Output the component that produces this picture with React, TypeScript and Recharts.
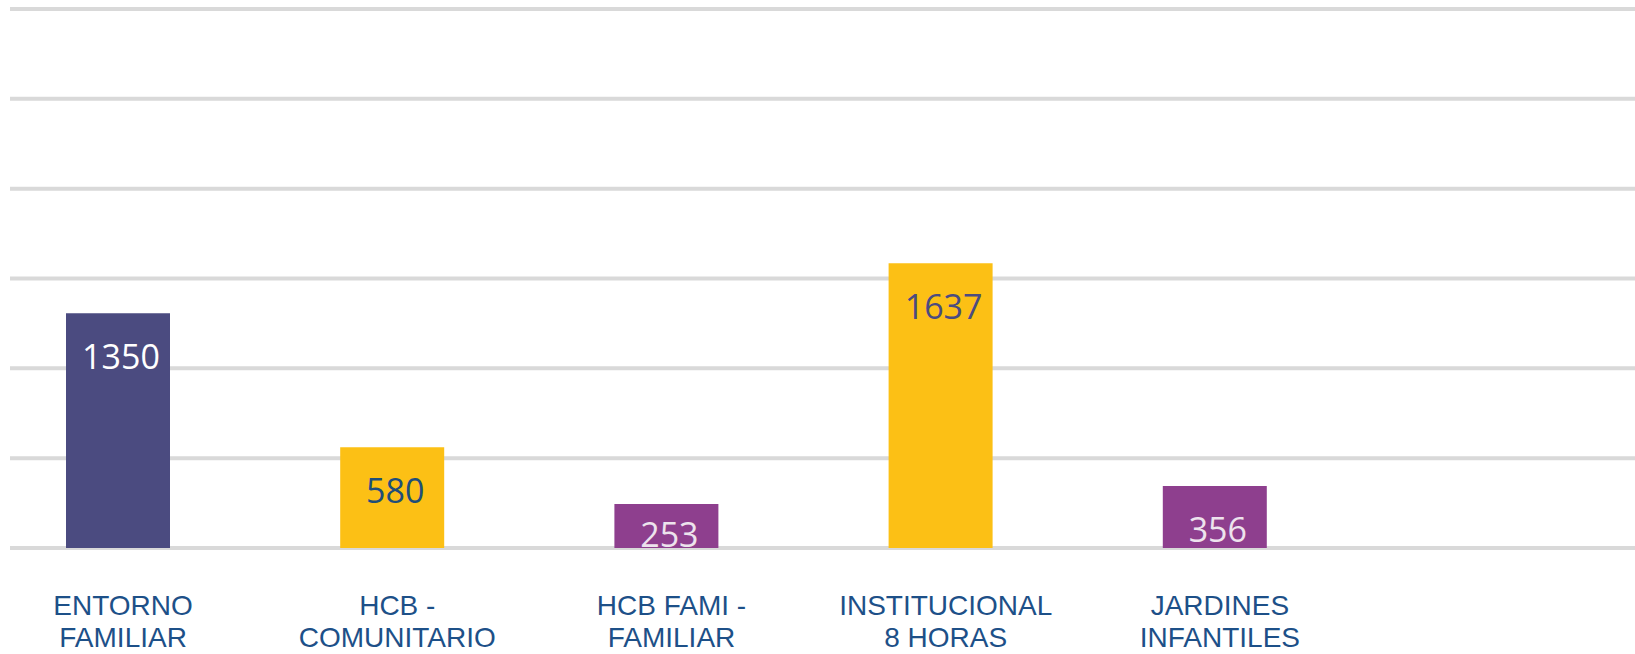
import { BarChart, Bar, XAxis, YAxis, CartesianGrid, Cell, LabelList } from 'recharts';

const categories = ['ENTORNO FAMILIAR', 'HCB - COMUNITARIO', 'HCB FAMI - FAMILIAR', 'INSTITUCIONAL 8 HORAS', 'JARDINES INFANTILES'];
const categoryLines = [
  ['ENTORNO', 'FAMILIAR'],
  ['HCB -', 'COMUNITARIO'],
  ['HCB FAMI -', 'FAMILIAR'],
  ['INSTITUCIONAL', '8 HORAS'],
  ['JARDINES', 'INFANTILES'],
];
const values = [1350, 580, 253, 1637, 356];
const yTicks = [0, 516.67, 1033.33, 1550, 2066.67, 2583.33, 3100];

const barColors = ['#4B4B80', '#FCC015', '#8E3F8E', '#FCC015', '#8E3F8E'];
const labelColors = ['#FFFFFF', '#1F4E79', '#EDE3ED', '#4B4B80', '#EDE3ED'];

const data = categories.map((name, i) => ({ name, value: values[i] }));

function CategoryTick(props: any) {
  const { x, y, index } = props;
  const lines = categoryLines[index] ?? [];
  return (
    <text
      x={x + 5}
      y={y}
      textAnchor='middle'
      fill='#1D5088'
      fontFamily='"Liberation Sans", Arial, sans-serif'
      fontSize={28}
    >
      {lines.map((l, i) => (
        <tspan key={i} x={x + 5} dy={i === 0 ? 67 : 32}>
          {l}
        </tspan>
      ))}
    </text>
  );
}

function ValueLabel(props: any) {
  const { x, y, width, height, value, index } = props;
  const cy = Math.min(y + 43, y + height - 14);
  return (
    <text
      x={x + width / 2 + 3}
      y={cy}
      textAnchor='middle'
      dominantBaseline='central'
      fill={labelColors[index]}
      fontFamily='"Open Sans", "Noto Sans", sans-serif'
      fontSize={34}
    >
      {value}
    </text>
  );
}

export default function App() {
  return (
    <div style={{ width: 1635, height: 654, background: '#fff' }}>
      <style>{'body{margin:0;overflow:hidden}'}</style>
      <BarChart
        width={1635}
        height={654}
        data={data}
        margin={{ top: 9, right: 0, bottom: 0, left: 10 }}
        barSize={104}
      >
        <CartesianGrid vertical={false} stroke='#D9D9D9' strokeWidth={4} />
        <XAxis
          dataKey='name'
          axisLine={false}
          tickLine={false}
          tickSize={0}
          tickMargin={0}
          interval={0}
          padding={{ left: -29, right: 283 }}
          tick={<CategoryTick />}
          height={106}
        />
        <YAxis hide domain={[0, 3100]} ticks={yTicks} />
        <Bar dataKey='value' isAnimationActive={false}>
          {data.map((d, i) => (
            <Cell key={d.name} fill={barColors[i]} />
          ))}
          <LabelList dataKey='value' content={<ValueLabel />} />
        </Bar>
      </BarChart>
    </div>
  );
}
